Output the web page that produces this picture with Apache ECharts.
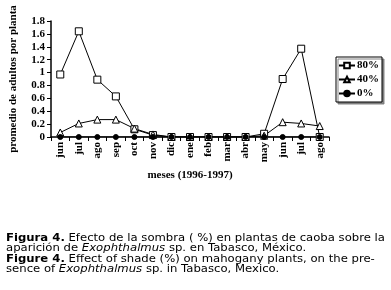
<!DOCTYPE html>
<html><head><meta charset="utf-8">
<script src="https://cdn.jsdelivr.net/npm/echarts@6/dist/echarts.min.js"></script>
<style>html,body{margin:0;padding:0;background:#fff}#c{width:391px;height:290px}</style>
</head><body><div id="c"></div>
<script>
var months = ['jun','jul','ago','sep','oct','nov','dic','ene','feb','mar','abr','may','jun','jul','ago'];
var s80 = [0.97,1.64,0.89,0.63,0.12,0.03,0,0,0,0,0,0.05,0.90,1.37,0];
var s40 = [0.07,0.21,0.27,0.27,0.13,0.04,0,0,0,0,0,0.02,0.23,0.21,0.17];
var s0  = [0,0,0,0,0,0,0,0,0,0,0,0,0,0,0];
var seriesNames = ['80%','40%','0%'];
var yTicks = [0,0.2,0.4,0.6,0.8,1,1.2,1.4,1.6,1.8];

var serif = 'Liberation Serif';
var sans = 'DejaVu Sans';
var chart = echarts.init(document.getElementById('c'), null, {renderer:'canvas'});
function mk(name, data, symbol, size, fill){
  return {name:name, type:'line', data:data, symbol:symbol, symbolSize:size, showAllSymbol:true,
    lineStyle:{color:'#000', width:1}, itemStyle:{color:fill, borderColor:'#000', borderWidth:1}, animation:false};
}
chart.setOption({
  animation:false,
  grid:{left:44, right:62, top:21, bottom:153},
  xAxis:{type:'category', data:months, boundaryGap:true,
    name:'meses (1996-1997)', nameLocation:'middle', nameGap:33,
    nameTextStyle:{fontFamily:serif, fontWeight:'bold', fontSize:11, color:'#000'},
    axisLine:{lineStyle:{color:'#000', width:1.5}},
    axisTick:{show:true, length:4, lineStyle:{color:'#000'}},
    axisLabel:{rotate:90, fontFamily:serif, fontWeight:'bold', fontSize:11, color:'#000', margin:5}},
  yAxis:{type:'value', min:0, max:1.8, interval:0.2,
    name:'promedio de adultos por planta', nameLocation:'middle', nameGap:32, nameRotate:90,
    nameTextStyle:{fontFamily:serif, fontWeight:'bold', fontSize:11, color:'#000'},
    splitLine:{show:false},
    axisLine:{show:true, lineStyle:{color:'#000', width:1.5}},
    axisTick:{show:true, length:4, lineStyle:{color:'#000'}},
    axisLabel:{fontFamily:serif, fontWeight:'bold', fontSize:11, color:'#000', margin:6,
      formatter:function(v){ var t=yTicks.find(function(x){return Math.abs(x-v)<1e-6;}); return t===undefined?'':String(t);} }},
  legend:{orient:'vertical', left:336, top:57, itemWidth:16, itemHeight:7, itemGap:3,
    padding:[3,3,3,2], borderColor:'#000', borderWidth:1, backgroundColor:'#fff',
    shadowColor:'rgba(120,120,120,0.9)', shadowOffsetX:2, shadowOffsetY:2, shadowBlur:0,
    textStyle:{fontFamily:serif, fontWeight:'bold', fontSize:11, color:'#000', padding:[0,0,0,-3]},
    data:seriesNames},
  series:[
    mk(seriesNames[0], s80, 'rect', 7, '#fff'),
    mk(seriesNames[1], s40, 'triangle', 7, '#fff'),
    mk(seriesNames[2], s0, 'circle', 5, '#000')
  ],
  graphic:[{type:'text', x:6, y:233, scaleX:1.11, scaleY:1, style:{
      text:'{b|Figura 4.} Efecto de la sombra ( %) en plantas de caoba sobre la\naparición de {i|Exophthalmus} sp. en Tabasco, México.\n{b|Figure 4.} Effect of shade (%) on mahogany plants, on the pre-\nsence of {i|Exophthalmus} sp. in Tabasco, Mexico.',
      font:'10.5px '+sans, fill:'#000', lineHeight:10.5,
      rich:{b:{fontFamily:sans, fontWeight:'bold', fontSize:10.5, lineHeight:10.5}, i:{fontFamily:sans, fontStyle:'italic', fontSize:10.5, lineHeight:10.5}}
  }}]
});
</script></body></html>
